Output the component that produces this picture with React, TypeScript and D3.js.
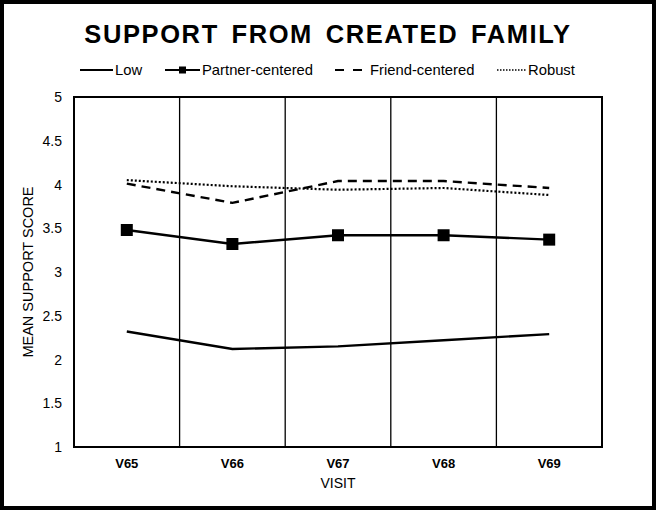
import * as d3 from "d3";
import { useEffect, useRef } from "react";

const visits = ["V65", "V66", "V67", "V68", "V69"];
const lowValues = [2.32, 2.12, 2.15, 2.22, 2.29];
const partnerValues = [3.48, 3.32, 3.42, 3.42, 3.37];
const friendValues = [4.01, 3.79, 4.04, 4.04, 3.96];
const robustValues = [4.05, 3.98, 3.94, 3.96, 3.88];
const yTicks = [1, 1.5, 2, 2.5, 3, 3.5, 4, 4.5, 5];

const seriesList = [
	{ name: "Low", values: lowValues, dash: null, marker: false },
	{ name: "Partner-centered", values: partnerValues, dash: null, marker: true },
	{ name: "Friend-centered", values: friendValues, dash: "9,6", marker: false },
	{ name: "Robust", values: robustValues, dash: "2,2", marker: false },
];

const W = 656;
const H = 510;
const margin = { top: 97, bottom: 63, left: 74, right: 54 };
const font = "'Liberation Sans', Arial, sans-serif";

const App = () => {
	const chartRef = useRef(null);

	useEffect(() => {
		const svg = d3.select(chartRef.current);
		svg.selectAll("*").remove();

		const boundsWidth = W - margin.left - margin.right;
		const boundsHeight = H - margin.top - margin.bottom;

		const scaleX = d3.scaleBand().domain(visits).range([0, boundsWidth]);
		const scaleY = d3.scaleLinear().domain([1, 5]).range([boundsHeight, 0]);

		// outer frame
		svg.append("rect")
			.attr("x", 2).attr("y", 2)
			.attr("width", W - 4).attr("height", H - 4)
			.attr("fill", "white")
			.attr("stroke", "black")
			.attr("stroke-width", 4);

		svg.append("text")
			.attr("x", W / 2)
			.attr("y", 43)
			.attr("text-anchor", "middle")
			.style("font-family", font)
			.style("font-weight", "bold")
			.style("font-size", "25.5px")
			.style("letter-spacing", "1.6px")
			.style("word-spacing", "4px")
			.text("SUPPORT FROM CREATED FAMILY");

		const g = svg.append("g")
			.attr("transform", `translate(${margin.left}, ${margin.top})`);

		// vertical separators between categories
		visits.slice(1).forEach(v => {
			g.append("line")
				.attr("x1", scaleX(v)).attr("x2", scaleX(v))
				.attr("y1", 0).attr("y2", boundsHeight)
				.attr("stroke", "black")
				.attr("stroke-width", 1.3);
		});

		g.append("rect")
			.attr("width", boundsWidth)
			.attr("height", boundsHeight)
			.attr("fill", "none")
			.attr("stroke", "black")
			.attr("stroke-width", 2);

		// y tick labels
		g.selectAll(".ytick")
			.data(yTicks)
			.enter()
			.append("text")
			.attr("x", -12)
			.attr("y", d => scaleY(d) + 5)
			.attr("text-anchor", "end")
			.style("font-family", font)
			.style("font-size", "14px")
			.text(d => d);

		// x tick labels
		g.selectAll(".xtick")
			.data(visits)
			.enter()
			.append("text")
			.attr("x", d => scaleX(d) + scaleX.bandwidth() / 2)
			.attr("y", boundsHeight + 21)
			.attr("text-anchor", "middle")
			.style("font-family", font)
			.style("font-size", "13px")
			.style("font-weight", "bold")
			.text(d => d);

		g.append("text")
			.attr("x", boundsWidth / 2)
			.attr("y", boundsHeight + 41)
			.attr("text-anchor", "middle")
			.style("font-family", font)
			.style("font-size", "14px")
			.text("VISIT");

		g.append("text")
			.attr("transform", `translate(-41, ${boundsHeight / 2}) rotate(-90)`)
			.attr("text-anchor", "middle")
			.style("font-family", font)
			.style("font-size", "14.5px")
			.text("MEAN SUPPORT SCORE");

		const line = d3.line()
			.x((d, i) => scaleX(visits[i]) + scaleX.bandwidth() / 2)
			.y(d => scaleY(d));

		seriesList.forEach(s => {
			g.append("path")
				.datum(s.values)
				.attr("d", line)
				.attr("fill", "none")
				.attr("stroke", "black")
				.attr("stroke-width", s.dash === "2,2" ? 2.2 : 2.4)
				.attr("stroke-dasharray", s.dash);
			if (s.marker) {
				g.selectAll(".mk")
					.data(s.values)
					.enter()
					.append("rect")
					.attr("x", (d, i) => scaleX(visits[i]) + scaleX.bandwidth() / 2 - 6)
					.attr("y", d => scaleY(d) - 6)
					.attr("width", 12)
					.attr("height", 12)
					.attr("fill", "black");
			}
		});

		// legend
		const legend = svg.append("g").attr("transform", "translate(0, 70)");
		const legendItems = [
			{ x: 80, len: 33 },
			{ x: 165, len: 35 },
			{ x: 335, len: 27 },
			{ x: 497, len: 29 },
		];
		seriesList.forEach((s, i) => {
			const it = legendItems[i];
			legend.append("line")
				.attr("x1", it.x).attr("x2", it.x + it.len)
				.attr("y1", 0).attr("y2", 0)
				.attr("stroke", "black")
				.attr("stroke-width", s.dash === "2,2" ? 1.5 : 2)
				.attr("stroke-dasharray", s.dash === "9,6" ? "9,9" : s.dash === "2,2" ? "1.5,1.5" : null);
			if (s.marker) {
				legend.append("rect")
					.attr("x", it.x + it.len / 2 - 3.5)
					.attr("y", -3.5)
					.attr("width", 7).attr("height", 7)
					.attr("fill", "black");
			}
			legend.append("text")
				.attr("x", it.x + it.len + (s.dash === "9,6" ? 8 : 2))
				.attr("y", 5)
				.style("font-family", font)
				.style("font-size", "14.8px")
				.text(s.name);
		});
	}, []);

	return (
		<svg ref={chartRef} width={W} height={H}
			style={{ position: "absolute", left: 0, top: 0, background: "white" }}></svg>
	);
};

export default App;
